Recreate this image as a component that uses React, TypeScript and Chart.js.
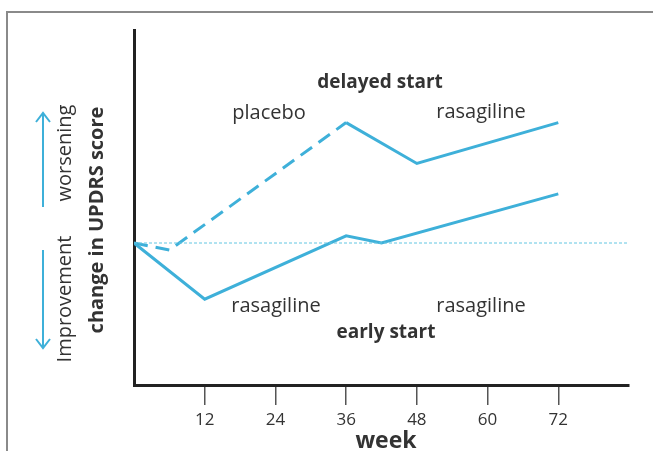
import React, { useEffect, useRef } from "react";
import { Chart, registerables } from "chart.js";

Chart.register(...registerables);

// ---- data (weeks vs. change in UPDRS score, arbitrary units) ----
const placeboWeeks = [0, 6, 36];
const placeboChange = [0, -0.25, 4.24];
const delayedRasWeeks = [36, 48, 72];
const delayedRasChange = [4.24, 2.8, 4.24];
const earlyWeeks = [0, 12, 36, 42, 72];
const earlyChange = [0, -1.98, 0.25, 0, 1.73];
const baselineWeeks = [0, 84];
const baselineChange = [0, 0];
const tickWeeks = [12, 24, 36, 48, 60, 72];

const BLUE = "#3eb0d9";
const TEXT = "#333333";
const FONT = "'Open Sans', 'Noto Sans', sans-serif";

const pts = (xs: number[], ys: number[]) => xs.map((x, i) => ({ x, y: ys[i] }));

const decorPlugin = {
  id: "decor",
  beforeDraw(chart: any) {
    const ctx = chart.ctx;
    ctx.save();
    ctx.fillStyle = "#ffffff";
    ctx.fillRect(0, 0, chart.width, chart.height);
    ctx.restore();
  },
  afterDraw(chart: any) {
    const ctx = chart.ctx as CanvasRenderingContext2D;
    ctx.save();
    // frame
    ctx.strokeStyle = "#8a8a8a";
    ctx.lineWidth = 2;
    ctx.beginPath();
    ctx.moveTo(7, 451);
    ctx.lineTo(7, 12);
    ctx.lineTo(653, 12);
    ctx.stroke();

    // annotations
    ctx.fillStyle = TEXT;
    ctx.textAlign = "center";
    ctx.textBaseline = "middle";
    ctx.font = `bold 19px ${FONT}`;
    ctx.fillText("delayed start", 380, 83);
    ctx.fillText("early start", 386, 333);
    ctx.font = `20px ${FONT}`;
    ctx.fillText("placebo", 269, 113);
    ctx.fillText("rasagiline", 481, 112);
    ctx.fillText("rasagiline", 276, 306);
    ctx.fillText("rasagiline", 481, 306);
    ctx.font = `bold 23px ${FONT}`;
    ctx.fillText("week", 386, 441);

    // y titles (rotated)
    ctx.save();
    ctx.translate(97, 220);
    ctx.rotate(-Math.PI / 2);
    ctx.font = `bold 20px ${FONT}`;
    ctx.fillText("change in UPDRS score", 0, 0);
    ctx.restore();

    ctx.save();
    ctx.translate(65, 0);
    ctx.rotate(-Math.PI / 2);
    ctx.font = `20px ${FONT}`;
    ctx.fillText("worsening", -153, 0);
    ctx.fillText("Improvement", -299, 0);
    ctx.restore();

    // arrows
    ctx.strokeStyle = BLUE;
    ctx.lineWidth = 2;
    ctx.beginPath();
    ctx.moveTo(43, 207);
    ctx.lineTo(43, 113);
    ctx.moveTo(36, 122);
    ctx.lineTo(43, 113);
    ctx.lineTo(50, 122);
    ctx.moveTo(43, 250);
    ctx.lineTo(43, 348);
    ctx.moveTo(36, 339);
    ctx.lineTo(43, 348);
    ctx.lineTo(50, 339);
    ctx.stroke();
    ctx.restore();
  },
};

export default function App() {
  const ref = useRef<HTMLCanvasElement | null>(null);
  useEffect(() => {
    if (!ref.current) return;
    const chart = new Chart(ref.current, {
      type: "line",
      data: {
        datasets: [
          {
            label: "baseline",
            data: pts(baselineWeeks, baselineChange),
            borderColor: "#62c6e2",
            borderWidth: 1,
            borderDash: [3, 2],
            pointRadius: 0,
          },
          {
            label: "placebo",
            data: pts(placeboWeeks, placeboChange),
            borderColor: BLUE,
            borderWidth: 3,
            borderDash: [14, 8],
            pointRadius: 0,
          },
          {
            label: "delayed start rasagiline",
            data: pts(delayedRasWeeks, delayedRasChange),
            borderColor: BLUE,
            borderWidth: 3,
            pointRadius: 0,
          },
          {
            label: "early start rasagiline",
            data: pts(earlyWeeks, earlyChange),
            borderColor: BLUE,
            borderWidth: 3,
            pointRadius: 0,
          },
        ],
      },
      options: {
        animation: false,
        responsive: false,
        devicePixelRatio: 1,
        layout: { padding: { top: 30, right: 25, left: 0, bottom: 0 } },
        plugins: { legend: { display: false }, tooltip: { enabled: false } },
        elements: { line: { tension: 0 } },
        scales: {
          x: {
            type: "linear",
            min: 0,
            max: 84,
            afterBuildTicks: (scale: any) => {
              scale.ticks = tickWeeks.map((v) => ({ value: v }));
            },
            afterFit: (scale: any) => {
              scale.height = 66;
            },
            grid: {
              display: true,
              drawOnChartArea: false,
              drawTicks: true,
              tickLength: 20,
              color: "#555555",
              lineWidth: 1.5,
            },
            border: { display: true, color: "#222222", width: 3 },
            ticks: {
              color: TEXT,
              font: { family: FONT, size: 17 },
              padding: 5,
              maxRotation: 0,
            },
          },
          y: {
            type: "linear",
            min: -5,
            max: 7.5,
            afterFit: (scale: any) => {
              scale.width = 134;
            },
            grid: { display: false },
            border: { display: true, color: "#222222", width: 3 },
            ticks: { display: false },
          },
        },
      },
      plugins: [decorPlugin],
    });
    return () => chart.destroy();
  }, []);
  return (
    <div style={{ position: "fixed", left: 0, top: 0, width: 654, height: 451 }}>
      <canvas ref={ref} width={654} height={451} />
    </div>
  );
}
